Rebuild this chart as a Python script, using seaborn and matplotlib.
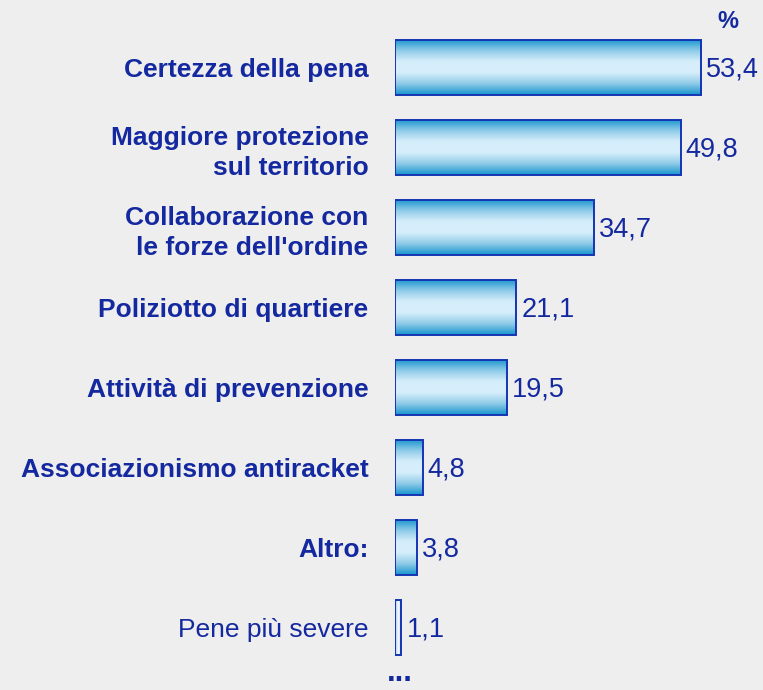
import numpy as np
import pandas as pd
import matplotlib
matplotlib.use("Agg")
import matplotlib.pyplot as plt
import seaborn as sns
from matplotlib.colors import LinearSegmentedColormap

# data
categories = [
    "Certezza della pena",
    "Maggiore protezione\nsul territorio",
    "Collaborazione con\nle forze dell'ordine",
    "Poliziotto di quartiere",
    "Attività di prevenzione",
    "Associazionismo antiracket",
    "Altro:",
    "Pene più severe",
]
values = [53.4, 49.8, 34.7, 21.1, 19.5, 4.8, 3.8, 1.1]
value_labels = ["53,4", "49,8", "34,7", "21,1", "19,5", "4,8", "3,8", "1,1"]

bg = "#eeeeee"
txt = "#1428a0"
edge = "#1434b4"

sns.set_theme(style="white")
plt.rcParams["font.family"] = ["Liberation Sans", "DejaVu Sans"]

df = pd.DataFrame({"cat": categories, "val": values})

fig = plt.figure(figsize=(7.63, 6.9), dpi=100, facecolor=bg)
ax = fig.add_axes([395 / 763, 22.5 / 690, 344 / 763, 640 / 690])
ax.set_facecolor(bg)

sns.barplot(data=df, x="val", y="cat", orient="h", width=0.69,
            color="#d8f0fc", edgecolor=edge, linewidth=1.4, ax=ax)

# gradient fill inside each bar
cm_main = LinearSegmentedColormap.from_list(
    "g", ["#1896cd", "#8fcbe8", "#d6eefb", "#d6eefb", "#8fcbe8", "#1896cd"])
cm_last = LinearSegmentedColormap.from_list("w", ["#9cc0f4", "#ffffff", "#9cc0f4"])
for i, p in enumerate(ax.patches):
    x0, y0 = p.get_x(), p.get_y()
    w, h = p.get_width(), p.get_height()
    if i == len(categories) - 1:
        grad = np.linspace(0, 1, 100).reshape(1, -1)
        cmap = cm_last
    else:
        grad = np.linspace(0, 1, 100).reshape(-1, 1)
        cmap = cm_main
    im = ax.imshow(grad, cmap=cmap, aspect="auto", extent=[x0, x0 + w, y0 + h, y0],
                   zorder=p.get_zorder() + 0.1, interpolation="bicubic")
    im.set_clip_path(p)
    p.set_zorder(p.get_zorder() + 0.2)
    p.set_facecolor("none")
    ax.text(x0 + w + 0.9, i + 0.02, value_labels[i], va="center", ha="left",
            fontsize=19.5, color=txt)

ax.set_xlim(0, 60)
ax.set_ylim(7.5, -0.5)

ax.set_xlabel("")
ax.set_ylabel("")
ax.set_xticks([])
ax.tick_params(axis="y", length=0, pad=19)
for i, lab in enumerate(ax.get_yticklabels()):
    lab.set_fontsize(19)
    lab.set_color(txt)
    lab.set_linespacing(1.3)
    if i < len(categories) - 1:
        lab.set_fontweight("bold")
sns.despine(ax=ax, left=True, bottom=True)

fig.text(728 / 763, 1 - 21 / 690, "%", ha="center", va="center",
         fontsize=17, fontweight="bold", color=txt)
fig.text(400 / 763, 2 / 690, "...", ha="center", va="bottom",
         fontsize=22, fontweight="bold", color=txt)

fig.savefig("out.png", dpi=100, facecolor=bg)
